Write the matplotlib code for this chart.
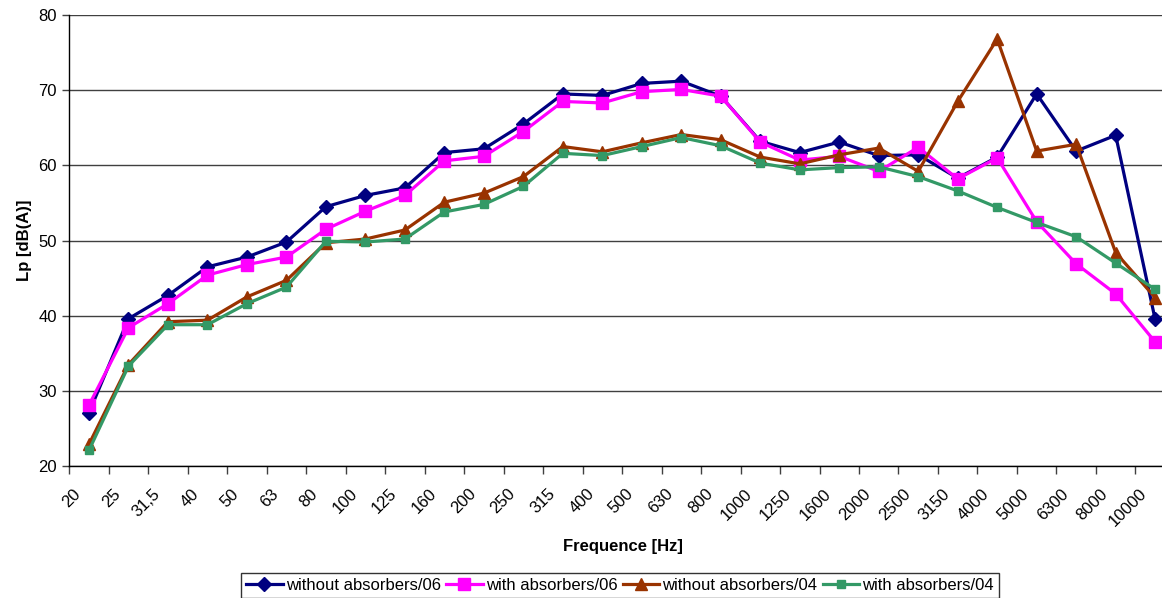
#!/usr/bin/env python3
"""
Sound pressure level per third-octave band, with and without absorbers
"""

import numpy as np
import matplotlib
matplotlib.use("Agg")
import matplotlib.pyplot as plt
from matplotlib.ticker import FixedLocator, NullFormatter

plt.rcParams['font.family'] = ['Liberation Sans', 'DejaVu Sans']

# third-octave band centre frequencies
bands = ['20', '25', '31,5', '40', '50', '63', '80', '100', '125', '160',
         '200', '250', '315', '400', '500', '630', '800', '1000', '1250',
         '1600', '2000', '2500', '3150', '4000', '5000', '6300', '8000',
         '10000']

without_abs_06 = [27.1, 39.6, 42.7, 46.5, 47.8, 49.8, 54.5, 56.0, 57.0, 61.7,
                  62.2, 65.5, 69.5, 69.3, 70.9, 71.2, 69.2, 63.2, 61.7, 63.1,
                  61.3, 61.4, 58.3, 61.1, 69.5, 61.9, 64.0, 39.5]
with_abs_06 = [28.1, 38.4, 41.6, 45.4, 46.8, 47.8, 51.5, 53.9, 56.0, 60.6,
               61.2, 64.5, 68.5, 68.3, 69.8, 70.1, 69.2, 63.1, 60.7, 61.2,
               59.2, 62.4, 58.2, 61.0, 52.5, 46.9, 42.9, 36.5]
without_abs_04 = [22.9, 33.5, 39.2, 39.4, 42.5, 44.7, 49.7, 50.2, 51.4, 55.1,
                  56.3, 58.5, 62.5, 61.8, 63.0, 64.1, 63.4, 61.1, 60.2, 61.4,
                  62.3, 59.2, 68.5, 76.8, 61.9, 62.8, 48.4, 42.4]
with_abs_04 = [22.1, 33.3, 38.8, 38.8, 41.6, 43.8, 49.9, 49.8, 50.2, 53.8,
               54.8, 57.2, 61.6, 61.3, 62.5, 63.7, 62.6, 60.3, 59.4, 59.7,
               59.8, 58.5, 56.6, 54.4, 52.4, 50.5, 47.0, 43.5]

series = [
    ('without absorbers/06', without_abs_06, '#000080', 'D', 7.5),
    ('with absorbers/06', with_abs_06, '#FF00FF', 's', 8),
    ('without absorbers/04', without_abs_04, '#993300', '^', 8),
    ('with absorbers/04', with_abs_04, '#339966', 's', 6),
]

fig = plt.figure(figsize=(11.62, 5.98), dpi=100)
# plot area runs a little past the right edge of the image
ax = fig.add_axes([0.0596, 0.2207, 0.9515, 0.7542])

x = np.arange(len(bands))
for label, values, color, marker, ms in series:
    ax.plot(x, values, color=color, marker=marker, markersize=ms,
            linewidth=2.3, label=label, clip_on=False)

ax.set_xlim(-0.5, len(bands) - 0.5)
ax.set_ylim(20, 80)
ax.set_yticks(np.arange(20, 81, 10))
ax.yaxis.grid(True, color='#404040', linewidth=1)
ax.set_axisbelow(True)

# rotated labels hang just left of each band centre,
# tick marks sit on the boundaries between bands
ax.set_xticks(x - 0.4)
ax.set_xticklabels(bands, rotation=45, ha='right', va='top',
                   rotation_mode='anchor')
ax.xaxis.set_minor_locator(FixedLocator(np.arange(-0.5, len(bands), 1.0)))
ax.xaxis.set_minor_formatter(NullFormatter())
ax.tick_params(axis='x', which='major', length=0, pad=14.5, labelsize=12)
ax.tick_params(axis='x', which='minor', length=6, width=1, color='#404040')
ax.tick_params(axis='y', length=5, width=1, pad=4, labelsize=12,
               color='#404040')

for side in ['top', 'right']:
    ax.spines[side].set_visible(False)
ax.spines['left'].set_linewidth(1)
ax.spines['bottom'].set_linewidth(1)

fig.text(623 / 1162, 1 - 546 / 598, 'Frequence [Hz]', ha='center',
         va='center', fontsize=12, fontweight='bold')
fig.text(24 / 1162, 1 - 240 / 598, 'Lp [dB(A)]', ha='center', va='center',
         rotation=90, fontsize=12, fontweight='bold')

leg = fig.legend(loc='upper center', bbox_to_anchor=(620 / 1162, 1 - 573 / 598),
                 ncol=4, fontsize=12, frameon=True, fancybox=False,
                 edgecolor='black', handlelength=2.2, handletextpad=0.2,
                 columnspacing=0.3, borderpad=0.3, borderaxespad=0)
leg.get_frame().set_linewidth(1)

plt.savefig('out.png', dpi=100)
